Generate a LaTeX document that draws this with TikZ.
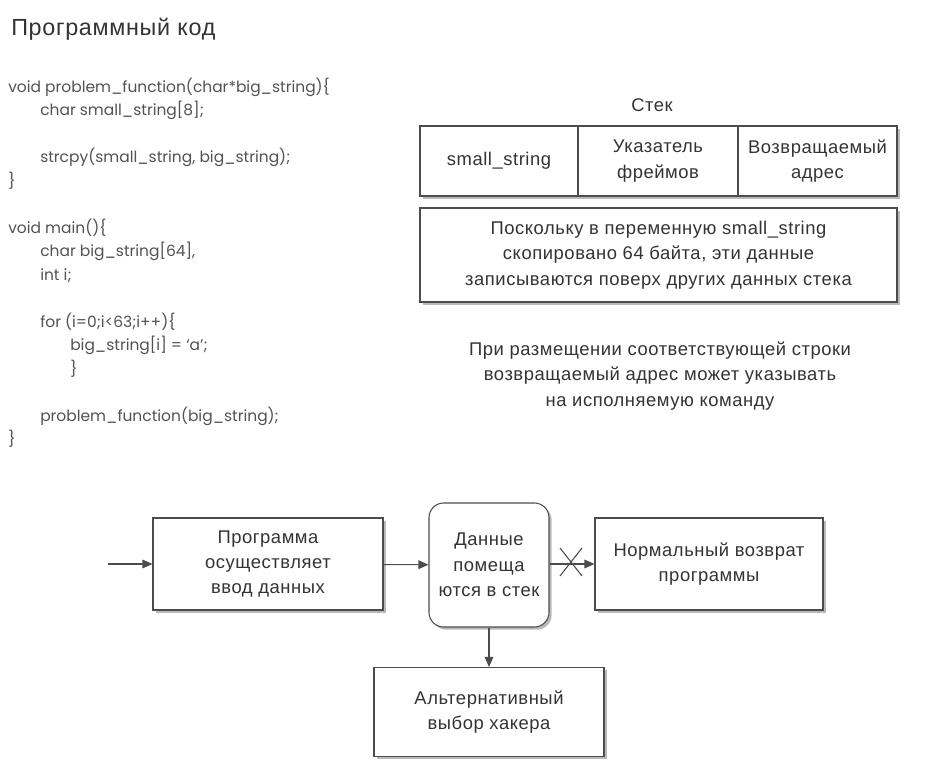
\documentclass[tikz,border=0pt]{standalone}
\usepackage{fontspec}
\setmainfont{Liberation Sans}[LetterSpace=3]
\newfontfamily\codefont{Poppins}
\usetikzlibrary{arrows.meta,shadows}

\begin{document}
\begin{tikzpicture}[x=0.75pt,y=-0.75pt,
  code/.style={anchor=base west,inner sep=0pt,text=black!68,
    font=\codefont\fontsize{11.6}{13}\selectfont},
  txt/.style={align=center,text=black!80,
    font=\fontsize{13.8}{19}\selectfont},
  box/.style={txt,draw=black!70,line width=0.8pt,fill=white,
    drop shadow={shadow xshift=2pt,shadow yshift=-2pt,fill=black!45,opacity=0.6}},
  flow/.style={draw=black!70,line width=0.8pt,-{Triangle[length=7.5pt,width=6.5pt]}}]
  \useasboundingbox (0,0) rectangle (931,764);

  % program code
  \node[anchor=base west,inner sep=0pt,text=black!80,font=\fontsize{17.5}{20}\selectfont] (title) at (11,35) {Программный код};
  \pgfmathsetmacro{\dl}{23.5}
  \node[code] (code1) at (8,92) {void problem\_function(char*big\_string)\{};
  \node[code] (code2) at (40,92+\dl) {char small\_string[8];};
  \node[code] (code3) at (40,92+3*\dl) {strcpy(small\_string, big\_string);};
  \node[code] (code4) at (8,92+4*\dl) {\}};
  \node[code] (code5) at (8,92+6*\dl) {void main()\{};
  \node[code] (code6) at (40,92+7*\dl) {char big\_string[64],};
  \node[code] (code7) at (40,92+8*\dl) {int i;};
  \node[code] (code8) at (40,92+10*\dl) {for (i=0;i<63;i++)\{};
  \node[code] (code9) at (70,92+11*\dl) {big\_string[i] = ‘a’;};
  \node[code] (code10) at (70,92+12*\dl) {\}};
  \node[code] (code11) at (40,92+14*\dl) {problem\_function(big\_string);};
  \node[code] (code12) at (8,92+15*\dl) {\}};

  % stack
  \node[txt] (stack) at (652,105) {Стек};
  \node[box,minimum width=118.5pt,minimum height=52.5pt] (small) at (499,161) {small\_string};
  \node[box,minimum width=120pt,minimum height=52.5pt] (frame) at (658,161) {Указатель\\фреймов};
  \node[box,minimum width=119.25pt,minimum height=52.5pt] (ret) at (817.5,161) {Возвращаемый\\адрес};
  \node[box,minimum width=357.75pt,minimum height=70.5pt] (over) at (658.5,255)
    {Поскольку в переменную small\_string\\скопировано 64 байта, эти данные\\записываются поверх других данных стека};
  \node[txt] (note) at (660,376)
    {При размещении соответствующей строки\\возвращаемый адрес может указывать\\на исполняемую команду};

  % flow
  \coordinate (start) at (108,564);
  \node[box,minimum width=172.5pt,minimum height=69pt] (input) at (268,564) {Программа\\осуществляет\\ввод данных};
  \node[box,rounded corners=11pt,minimum width=90pt,minimum height=93pt] (push) at (489,565) {Данные\\помеща\\ются в стек};
  \node[box,minimum width=171pt,minimum height=69pt] (normal) at (709,564) {Нормальный возврат\\программы};
  \node[box,minimum width=172.5pt,minimum height=66.75pt] (hacker) at (489,712) {Альтернативный\\выбор хакера};
  \draw[flow] (start) -- (input);
  \draw[flow] (input) -- (push);
  \draw[flow] (push.east |- normal.west) -- (normal.west);
  \draw[flow] (push) -- (hacker);
  \coordinate (cross) at (571,562);
  \draw[black!70,line width=0.8pt] ([shift={(-11,-14)}]cross) -- ([shift={(11,14)}]cross)
    ([shift={(-11,14)}]cross) -- ([shift={(11,-14)}]cross);
\end{tikzpicture}
\end{document}
